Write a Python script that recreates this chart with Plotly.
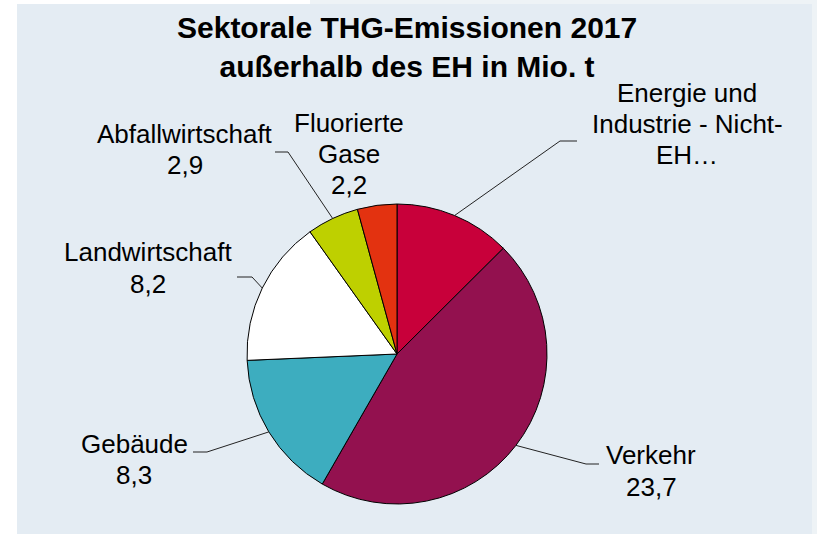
import math
import plotly.graph_objects as go

# ---- data ----
sectors = ["Energie und Industrie - Nicht-EH", "Verkehr", "Gebäude",
           "Landwirtschaft", "Abfallwirtschaft", "Fluorierte Gase"]
values = [6.5, 23.7, 8.3, 8.2, 2.9, 2.2]
label_lines = [["Energie und", "Industrie - Nicht-", "EH…"], ["Verkehr", "23,7"], ["Gebäude", "8,3"],
               ["Landwirtschaft", "8,2"], ["Abfallwirtschaft", "2,9"], ["Fluorierte", "Gase", "2,2"]]
title_lines = ["Sektorale THG-Emissionen 2017", "außerhalb des EH in Mio. t"]
colors = ["#C8003A", "#93114F", "#3DADBF", "#FFFFFF", "#BED000", "#E33210"]

# ---- layout (pixels) ----
W, H = 817, 534
CX, CY, R = 397, 354, 150
FONT = "Arial, 'Liberation Sans', sans-serif"
# first-line centers of each label and leader elbows (None = no leader)
label_pos = [(687, 93), (651, 455), (134, 444), (148, 252), (185, 134), (349, 123)]
label_sp = [31, 32, 31, 32, 31, 31]
elbows = [((560, 141), (577, 141)), ((586, 464), (599, 464)), ((207, 452), (193, 452)),
          ((252, 277), (237, 277)), ((288, 152), (275, 152)), None]

fig = go.Figure()
fig.add_trace(go.Pie(
    labels=sectors, values=values, sort=False, direction="clockwise", rotation=0,
    marker=dict(colors=colors, line=dict(color="#000000", width=1)),
    textinfo="none", showlegend=False,
    domain=dict(x=[(CX - R) / W, (CX + R) / W], y=[(H - CY - R) / H, (H - CY + R) / H]),
))

shapes = [
    dict(type="rect", xref="x", yref="y", x0=310, x1=817, y0=0, y1=4,
         fillcolor="#EEF3F6", line=dict(width=0), layer="below"),
    dict(type="rect", xref="x", yref="y", x0=812, x1=817, y0=0, y1=534,
         fillcolor="#EEF3F6", line=dict(width=0), layer="below"),
    dict(type="rect", xref="x", yref="y", x0=17, x1=812, y0=4, y1=534,
         fillcolor="#E4ECF3", line=dict(width=0), layer="below"),
]
annotations = [dict(text="<b>" + "<br>".join(title_lines) + "</b>", x=407, y=47,
                    xref="x", yref="y", showarrow=False, align="center",
                    font=dict(family=FONT, size=30, color="#000000"))]

total = sum(values)
cum = 0.0
for i, v in enumerate(values):
    mid = (cum + v / 2) / total * 2 * math.pi
    cum += v
    ex, ey = CX + R * math.sin(mid), CY - R * math.cos(mid)
    if elbows[i] is not None:
        (bx, by), (tx, ty) = elbows[i]
        shapes.append(dict(type="path", xref="x", yref="y",
                           path=f"M {ex:.1f} {ey:.1f} L {bx} {by} L {tx} {ty}",
                           line=dict(color="#222222", width=1)))
    lx, ly = label_pos[i]
    for j, line in enumerate(label_lines[i]):
        annotations.append(dict(text=line, x=lx, y=ly + label_sp[i] * j, xref="x", yref="y",
                                showarrow=False, align="center",
                                font=dict(family=FONT, size=26, color="#000000")))

fig.update_layout(
    width=W, height=H, margin=dict(l=0, r=0, t=0, b=0),
    paper_bgcolor="#FFFFFF", plot_bgcolor="rgba(0,0,0,0)",
    xaxis=dict(range=[0, W], visible=False, fixedrange=True),
    yaxis=dict(range=[H, 0], visible=False, fixedrange=True),
    shapes=shapes, annotations=annotations,
)
fig.write_html("out.html", config={"displayModeBar": False},
               post_script="document.body.style.margin='0px';")
